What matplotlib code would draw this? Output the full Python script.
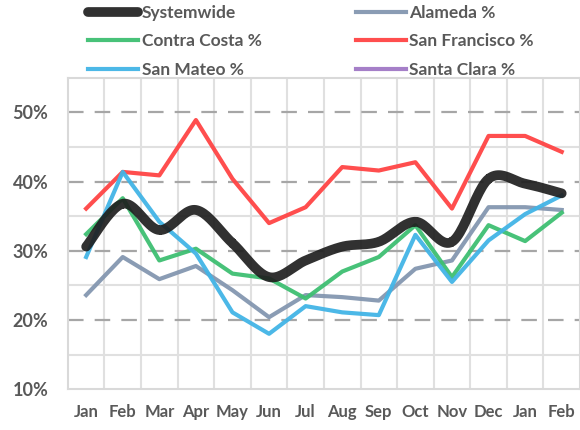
import matplotlib.pyplot as plt
import numpy as np

months = ["Jan", "Feb", "Mar", "Apr", "May", "Jun", "Jul", "Aug", "Sep", "Oct", "Nov", "Dec", "Jan", "Feb"]
systemwide = [30.6, 36.8, 33.0, 35.9, 31.1, 26.2, 28.6, 30.6, 31.3, 34.2, 31.3, 40.4, 39.7, 38.3]
alameda = [23.6, 29.1, 25.9, 27.8, 24.3, 20.4, 23.6, 23.3, 22.8, 27.4, 28.6, 36.3, 36.3, 35.9]
contra_costa = [32.4, 37.6, 28.6, 30.3, 26.7, 26.0, 23.1, 27.0, 29.1, 33.7, 26.2, 33.7, 31.4, 35.5]
san_francisco = [36.1, 41.4, 40.9, 48.9, 40.4, 34.0, 36.3, 42.1, 41.6, 42.8, 36.1, 46.6, 46.6, 44.3]
san_mateo = [29.1, 41.4, 34.2, 29.6, 21.1, 18.0, 22.0, 21.1, 20.7, 32.3, 25.5, 31.5, 35.3, 38.0]
santa_clara = [np.nan] * 14  # in legend, no data shown


def smooth(y, n=24):
    # catmull-rom curve through the points (like Excel's smoothed line)
    x = np.arange(len(y), dtype=float)
    p = np.column_stack([x, y])
    p = np.vstack([p[0], p, p[-1]])
    out = []
    for i in range(1, len(p) - 2):
        p0, p1, p2, p3 = p[i - 1], p[i], p[i + 1], p[i + 2]
        t = np.linspace(0, 1, n)[:, None]
        c = 0.5 * ((2 * p1) + (-p0 + p2) * t + (2 * p0 - 5 * p1 + 4 * p2 - p3) * t ** 2
                   + (-p0 + 3 * p1 - 3 * p2 + p3) * t ** 3)
        out.append(c)
    c = np.vstack(out)
    return c[:, 0], c[:, 1]


plt.rcParams["font.family"] = ["Lato", "DejaVu Sans"]
plt.rcParams["font.weight"] = "bold"

fig = plt.figure(figsize=(5.8, 4.3), dpi=100)
ax = fig.add_axes([0.117, 0.095, 0.883, 0.724])

x = np.arange(len(months))
ax.plot(x, alameda, color="#8497B0", lw=3, alpha=0.95, label="Alameda %", zorder=3)
ax.plot(x, contra_costa, color="#3EBF72", lw=3, alpha=0.95, label="Contra Costa %", zorder=3)
ax.plot(x, san_francisco, color="#FF4444", lw=3, alpha=0.95, label="San Francisco %", zorder=3)
ax.plot(x, san_mateo, color="#42B4E6", lw=3, alpha=0.95, label="San Mateo %", zorder=3)
ax.plot(x, santa_clara, color="#A57FC8", lw=3, label="Santa Clara %", zorder=3)
sx, sy = smooth(systemwide)
ax.plot(sx, sy, color="#1F1F1F", lw=7, alpha=0.92, label="Systemwide", zorder=4,
        solid_capstyle="round")

ax.set_xlim(-0.5, 13.5)
ax.set_ylim(10, 55)
ax.set_xticks(x)
ax.set_xticklabels(months)
ax.set_yticks([10, 20, 30, 40, 50])
ax.set_yticklabels(["10%", "20%", "30%", "40%", "50%"])
ax.tick_params(length=0, labelsize=13, labelcolor="#595959")
ax.tick_params(axis="y", pad=14)
ax.tick_params(axis="x", labelsize=12, pad=11)

# grid lines
for k in np.arange(0.5, 13.5, 1):
    ax.axvline(k, color="#E0E0E0", lw=1.5, zorder=1)
for v in [15, 25, 35, 45]:
    ax.axhline(v, color="#E0E0E0", lw=1.5, zorder=1)
for v in [20, 30, 40, 50]:
    ax.axhline(v, color="#A6A6A6", lw=1.6, ls=(0, (7, 5)), zorder=2)
for s in ax.spines.values():
    s.set_color("#D9D9D9")
    s.set_linewidth(1.5)

h, l = ax.get_legend_handles_labels()
order = [5, 1, 3, 0, 2, 4]
fig.legend([h[i] for i in order], [l[i] for i in order], ncol=2, loc="upper left",
           bbox_to_anchor=(0.125, 1.025), frameon=False, fontsize=12.5, handlelength=2.9,
           handletextpad=0.2, columnspacing=5.4, labelspacing=0.72, labelcolor="#595959")

plt.savefig("out.png", dpi=100)
